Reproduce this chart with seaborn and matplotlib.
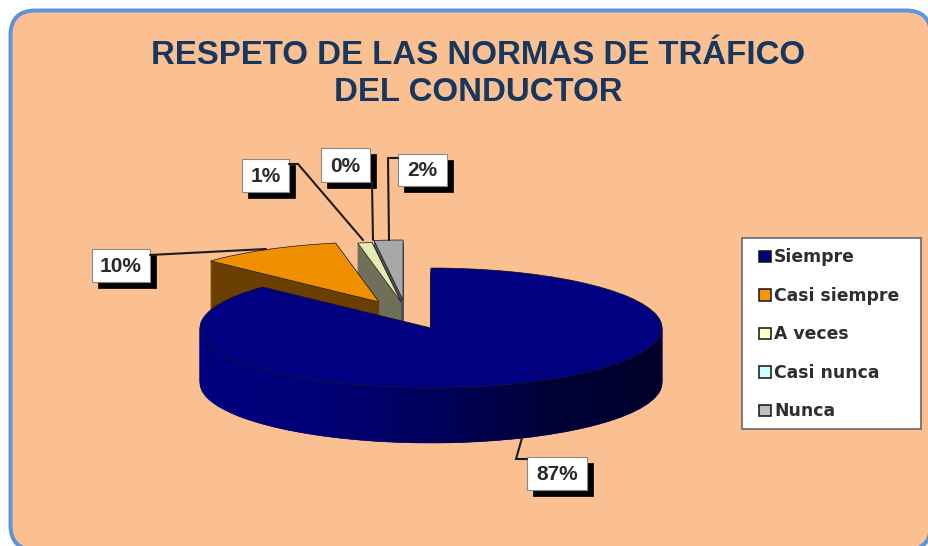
import numpy as np
import seaborn as sns
import matplotlib.pyplot as plt
from matplotlib.patches import Wedge, FancyBboxPatch, Rectangle, Patch, Polygon
from matplotlib.colors import LinearSegmentedColormap

categories = ['Siempre', 'Casi siempre', 'A veces', 'Casi nunca', 'Nunca']
values = [87, 10, 1, 0, 2]
pct_labels = ['87%', '10%', '1%', '0%', '2%']
title = 'RESPETO DE LAS NORMAS DE TRÁFICO\nDEL CONDUCTOR'

legend_colors = ['#000080', '#F59500', '#FFFFCC', '#CCFFFF', '#C0C0C0']
top_colors = ['#000080', '#F09000', '#E8E8B0', '#CCFFFF', '#A8A8A8']
side_colors = ['#000080', '#6B3F00', '#70705A', '#5A7070', '#4A5058']

# layout in pixels
cx, cy, rx, ry, depth = 431, 328, 231, 60, 55
slice_centers = [(431, 328), (379, 302), (401, 302), (401, 302), (403, 300)]
draw_order = [4, 3, 2, 1, 0]

sns.set_theme(style='white')
plt.rcParams['font.family'] = ['Liberation Sans', 'DejaVu Sans']

fig = plt.figure(figsize=(9.29, 5.46), dpi=100)

bg = fig.add_axes([0, 0, 1, 1], zorder=0)
bg.set_xlim(0, 929)
bg.set_ylim(546, 0)
bg.axis('off')
bg.add_patch(FancyBboxPatch((10.5, 10.5), 920.5, 539.5, boxstyle='round,pad=0,rounding_size=25',
                            fc='#FBC091', ec='#5F94DC', lw=2.9))

# pie axes: one unit is rx pixels across and ry pixels up
ax = fig.add_axes([0, 0, 1, 1], zorder=1)
ax.patch.set_alpha(0)
wedges, _ = ax.pie(values, colors=sns.color_palette(top_colors), startangle=90, counterclock=False,
                   wedgeprops={'edgecolor': '#1a1a1a', 'linewidth': 0.5})
ax.set_aspect('auto')
xlim = (-cx / rx, (929 - cx) / rx)
ylim = ((cy - 546) / ry, cy / ry)
d_unit = depth / ry


def to_unit(p):
    return (p[0] - cx) / rx, (cy - p[1]) / ry


z = 2
for i in draw_order:
    w = wedges[i]
    c = to_unit(slice_centers[i])
    w.set_center(c)
    for d in np.linspace(d_unit, 0.01, 60):
        ax.add_patch(Wedge((c[0], c[1] - d), 1, w.theta1, w.theta2, fc=side_colors[i],
                           ec=side_colors[i], lw=0.4, zorder=z))
    z += 1
    if i == 0:
        # shaded rim of the big slice
        t = np.radians(np.linspace(180, 360, 200))
        xs = np.cos(t)
        ys = np.sin(t)
        rim = Polygon(np.r_[np.c_[xs, ys], np.c_[xs[::-1], ys[::-1] - d_unit]], closed=True,
                      transform=ax.transData, fc='none', ec='none')
        ax.add_patch(rim)
        shade = LinearSegmentedColormap.from_list('rim', ['#000080', '#000078', '#00005C', '#000038', '#00002A'])
        im = ax.imshow(np.linspace(0, 1, 256).reshape(1, -1), cmap=shade, aspect='auto',
                       extent=(-1, 1, -1 - d_unit, 0), zorder=z)
        im.set_clip_path(rim)
        z += 1
    w.set_zorder(z)
    z += 1
ax.set_xlim(*xlim)
ax.set_ylim(*ylim)
ax.axis('off')

top = fig.add_axes([0, 0, 1, 1], zorder=2)
top.patch.set_alpha(0)
top.set_xlim(0, 929)
top.set_ylim(546, 0)
top.axis('off')

top.text(478, 74, title, ha='center', va='center', fontsize=23.8, fontweight='bold',
         color='#17375E', linespacing=1.22)

# leader lines and label boxes
leaders = [[(527, 459), (516, 459), (522, 438)],
           [(150, 255), (266, 249)],
           [(289, 164), (298, 164), (363, 240)],
           [(372, 182), (373, 240)],
           [(398, 158), (388, 158), (389, 240)]]
boxes = [(527, 457, 60, 33), (92, 249, 58, 33), (242, 159, 47, 33), (321, 148, 49, 34), (398, 154, 49, 32)]
for text, line, (x, y, w, h) in zip(pct_labels, leaders, boxes):
    pts = np.array(line)
    top.plot(pts[:, 0], pts[:, 1], color='#1c1c1c', lw=1.5, solid_joinstyle='miter')
    top.add_patch(Rectangle((x + 6, y + 6), w, h, fc='black', ec='black', lw=0.5))
    top.add_patch(Rectangle((x, y), w, h, fc='white', ec='#8a8a8a', lw=0.8))
    top.text(x + w / 2, y + h / 2 + 1, text, ha='center', va='center', fontsize=15,
             fontweight='bold', color='#2a2a2a')

top.add_patch(Rectangle((742, 238), 179, 191, fc='white', ec='#666666', lw=1.2))
handles = [Patch(fc=c, ec='#111111', lw=1.1) for c in legend_colors]
top.legend(handles, categories, loc='upper left', bbox_to_anchor=(759, 248.5), bbox_transform=top.transData,
           prop={'family': 'DejaVu Sans', 'size': 12.4, 'weight': 'bold'}, labelcolor='#2e2e2e', frameon=False,
           borderpad=0, borderaxespad=0, labelspacing=1.19, handlelength=0.67, handleheight=0.67,
           handletextpad=0.2)

fig.savefig('out.png', dpi=100)
